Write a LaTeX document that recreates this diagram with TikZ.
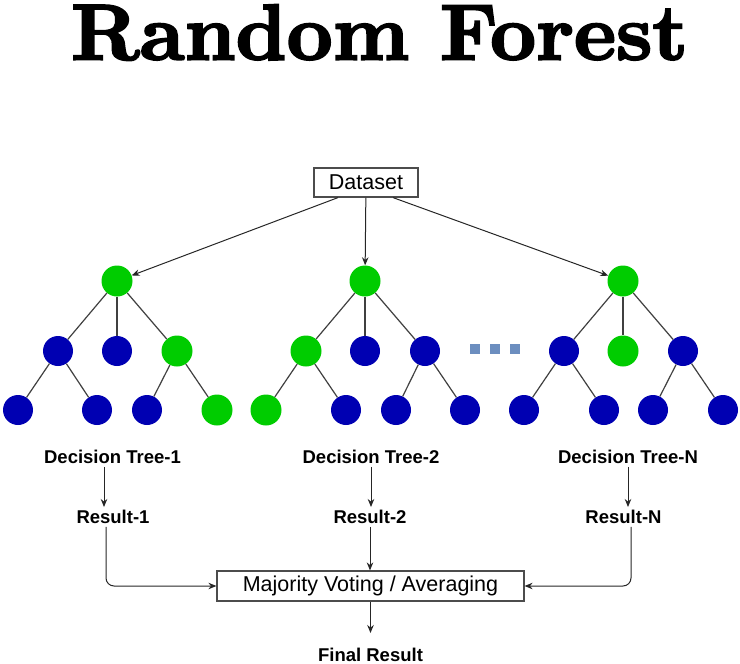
\documentclass[tikz,border=0pt]{standalone}
\usepackage{graphicx}
\usepackage{fontspec}
\setmainfont{Liberation Sans}
\newfontfamily\titlefont{lmroman10-bold.otf}[FakeBold=2.5]
\usetikzlibrary{arrows.meta}

\definecolor{leafgreen}{RGB}{0,204,0}
\definecolor{leafblue}{RGB}{0,0,178}
\definecolor{dotblue}{RGB}{108,142,191}

\tikzset{
  gnode/.style={circle, fill=leafgreen, minimum size=31pt, inner sep=0pt},
  bnode/.style={circle, fill=leafblue, minimum size=30pt, inner sep=0pt},
  branch/.style={draw=black!75, line width=1.2pt},
  arr/.style={-{Stealth[length=8pt,width=6.5pt]}, line width=1pt, draw=black!85},
  lbl/.style={font=\bfseries\fontsize{18.5}{20}\selectfont, inner sep=3pt},
  boxed/.style={draw=black!70, line width=1.2pt, font=\fontsize{21.5}{24}\selectfont}
}

\begin{document}
\begin{tikzpicture}[x=1pt, y=-1pt]
\useasboundingbox (0,0) rectangle (740,664);

\node[inner sep=0pt] (title) at (379.5,32.5) {\resizebox{617pt}{55pt}{\titlefont Random Forest}};

\node[boxed, minimum width=104pt, minimum height=29pt] (data) at (366,182.5) {Dataset};

% tree 1
\node[gnode] (t1r) at (117,281) {};
\node[bnode] (t1a) at (58,351) {};
\node[bnode] (t1b) at (117,351) {};
\node[gnode] (t1c) at (177,351) {};
\node[bnode] (t1aa) at (18,410) {};
\node[bnode] (t1ab) at (97,410) {};
\node[bnode] (t1ca) at (147,410) {};
\node[gnode] (t1cb) at (217,410) {};

% tree 2
\node[gnode] (t2r) at (365,281) {};
\node[gnode] (t2a) at (306,351) {};
\node[bnode] (t2b) at (365,351) {};
\node[bnode] (t2c) at (425,351) {};
\node[gnode] (t2aa) at (266,410) {};
\node[bnode] (t2ab) at (346,410) {};
\node[bnode] (t2ca) at (396,410) {};
\node[bnode] (t2cb) at (465,410) {};

% tree N
\node[gnode] (tNr) at (623,281) {};
\node[bnode] (tNa) at (564,351) {};
\node[gnode] (tNb) at (623,351) {};
\node[bnode] (tNc) at (683,351) {};
\node[bnode] (tNaa) at (524,410) {};
\node[bnode] (tNab) at (604,410) {};
\node[bnode] (tNca) at (653,410) {};
\node[bnode] (tNcb) at (723,410) {};

\foreach \t in {1,2,N}
{
\draw[branch] (t\t r) -- (t\t a);
\draw[branch] (t\t r) -- (t\t b);
\draw[branch] (t\t r) -- (t\t c);
\draw[branch] (t\t a) -- (t\t aa);
\draw[branch] (t\t a) -- (t\t ab);
\draw[branch] (t\t c) -- (t\t ca);
\draw[branch] (t\t c) -- (t\t cb);
}

\foreach \x in {475,495,515}
\fill[dotblue] (\x-5,344) rectangle ++(10,10);

\draw[arr] ([xshift=-28pt]data.south) -- (t1r);
\draw[arr] (data) -- (t2r);
\draw[arr] ([xshift=27pt]data.south) -- (tNr);

\node[lbl] (dt1) at (112.5,457) {Decision Tree-1};
\node[lbl] (dt2) at (371,457) {Decision Tree-2};
\node[lbl] (dtN) at (628,457) {Decision Tree-N};
\node[lbl] (res1) at (113,517) {Result-1};
\node[lbl] (res2) at (370,517) {Result-2};
\node[lbl] (resN) at (623.5,517) {Result-N};

\node[boxed, minimum width=307pt, minimum height=30pt] (vote) at (370.5,586) {Majority Voting / Averaging};
\node[lbl] (final) at (370.5,655) {Final Result};

\draw[arr] ([xshift=-8.5pt]dt1.south) -- ([xshift=-8.5pt]dt1.south |- res1.north);
\draw[arr] (dt2.south) -- (dt2.south |- res2.north);
\draw[arr] (dtN.south) -- (dtN.south |- resN.north);

\draw[arr, rounded corners=8pt] ([xshift=-7pt]res1.south) |- (vote.west);
\draw[arr] (res2.south) -- (res2.south |- vote.north);
\draw[arr, rounded corners=8pt] ([xshift=7.5pt]resN.south) |- (vote.east);
\draw[arr, shorten >=12pt] (vote.south) -- (final.north);

\end{tikzpicture}
\end{document}
